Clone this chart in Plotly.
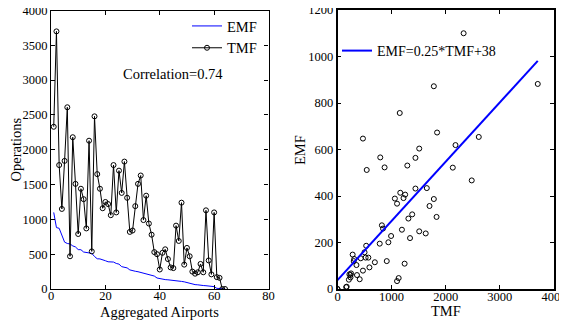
import numpy as np
import plotly.graph_objects as go

# ---- data ----
airport_idx = list(range(1, 65))
TMF = [2330, 3700, 1780, 1150, 1840, 2610, 470, 2180, 1510, 790,
       1440, 1290, 870, 2130, 540, 2480, 1650, 1440, 1160, 1250,
       1220, 1060, 1780, 1100, 1700, 1380, 1830, 1310, 820, 840,
       1190, 1510, 1630, 990, 1340, 940, 780, 530, 500, 280,
       520, 570, 430, 310, 300, 910, 690, 1240, 350, 590,
       470, 250, 220, 240, 360, 240, 1130, 410, 210, 1100,
       170, 160, 0, 0]
EMF = [1100, 882, 872, 757, 673, 654, 647, 619, 604, 566,
       564, 531, 523, 522, 512, 467, 434, 432, 414, 406,
       391, 389, 387, 367, 357, 321, 310, 303, 274, 260,
       255, 248, 239, 228, 219, 201, 195, 186, 158, 148,
       135, 135, 132, 129, 120, 120, 115, 109, 103, 93,
       79, 67, 63, 60, 60, 50, 47, 42, 40, 34,
       10, 8, 0, 0]
tmf_ticks = [0, 1000, 2000, 3000, 4000]
fit_slope = 0.255
fit_intercept = 38
correlation_text = "Correlation=0.74"
fit_label = "EMF=0.25*TMF+38"

FONT = "Liberation Serif"
OFF = 8  # page body margin in the browser
W, H = 567, 324

fig = go.Figure()

fig.add_trace(go.Scatter(x=airport_idx, y=EMF, mode="lines", name="EMF",
                         line=dict(color="rgb(0,0,255)", width=1),
                         xaxis="x", yaxis="y", legend="legend"))
fig.add_trace(go.Scatter(x=airport_idx, y=TMF, mode="lines+markers", name="TMF",
                         line=dict(color="black", width=1),
                         marker=dict(symbol="circle-open", size=5, color="black",
                                     line=dict(width=1, color="black")),
                         xaxis="x", yaxis="y", legend="legend"))

fig.add_trace(go.Scatter(x=TMF, y=EMF, mode="markers", showlegend=False,
                         marker=dict(symbol="circle-open", size=5, color="black",
                                     line=dict(width=1, color="black")),
                         xaxis="x2", yaxis="y2"))
xfit = np.array([0, max(TMF)])
fig.add_trace(go.Scatter(x=xfit, y=fit_slope * xfit + fit_intercept, mode="lines",
                         name=fit_label, line=dict(color="rgb(0,0,255)", width=2),
                         xaxis="x2", yaxis="y2", legend="legend2"))

# positions given in page pixels, converted to paper fractions
def px_x(p):
    return (p - OFF) / W

def px_y(p):
    return 1 - (p - OFF) / H

axis_common = dict(showgrid=False, zeroline=False, showline=True, linecolor="black",
                   mirror="ticks", ticks="inside", ticklen=4, tickcolor="black",
                   automargin=False, ticklabeloverflow="allow",
                   tickfont=dict(family=FONT, size=12.5, color="black"))

fig.update_layout(
    width=W, height=H,
    margin=dict(l=0, r=0, t=0, b=0, autoexpand=False),
    paper_bgcolor="white", plot_bgcolor="white",
    font=dict(family=FONT, size=14, color="black"),
    xaxis=dict(domain=[px_x(51), px_x(268.5)], range=[0, 80], dtick=20,
               anchor="y", linewidth=1.2, ticklabelstandoff=-5, **axis_common),
    yaxis=dict(domain=[px_y(289), px_y(10.5)], range=[0, 4000], dtick=500,
               anchor="x", linewidth=1.2, **axis_common),
    xaxis2=dict(domain=[px_x(337.5), px_x(554)], range=[0, 4000],
                tickmode="array", tickvals=tmf_ticks,
                ticktext=[str(v) for v in tmf_ticks],
                anchor="y2", linewidth=1.5, ticklabelstandoff=-5, **axis_common),
    yaxis2=dict(domain=[px_y(289), px_y(10)], range=[0, 1200], dtick=200,
                anchor="x2", linewidth=1.5, **axis_common),
    legend=dict(x=px_x(187), y=px_y(10), xanchor="left", yanchor="top",
                bgcolor="rgba(0,0,0,0)", font=dict(family=FONT, size=14.5),
                tracegroupgap=0),
    legend2=dict(x=px_x(337), y=px_y(35), xanchor="left", yanchor="top",
                 bgcolor="rgba(0,0,0,0)", font=dict(family=FONT, size=14)),
)

ann_font = dict(family=FONT, size=14.5, color="black")
def add_text(text, x, y, angle=0):
    fig.add_annotation(text=text, x=px_x(x), y=px_y(y), xref="paper", yref="paper",
                       xanchor="center", yanchor="middle", showarrow=False,
                       textangle=angle, font=ann_font)

add_text(correlation_text, 173, 74)
add_text("Aggregated Airports", 159.5, 312)
add_text("Operations", 15.5, 150, -90)
add_text("TMF", 446, 311)
add_text("EMF", 300, 150, -90)

fig.write_html("out.html")
